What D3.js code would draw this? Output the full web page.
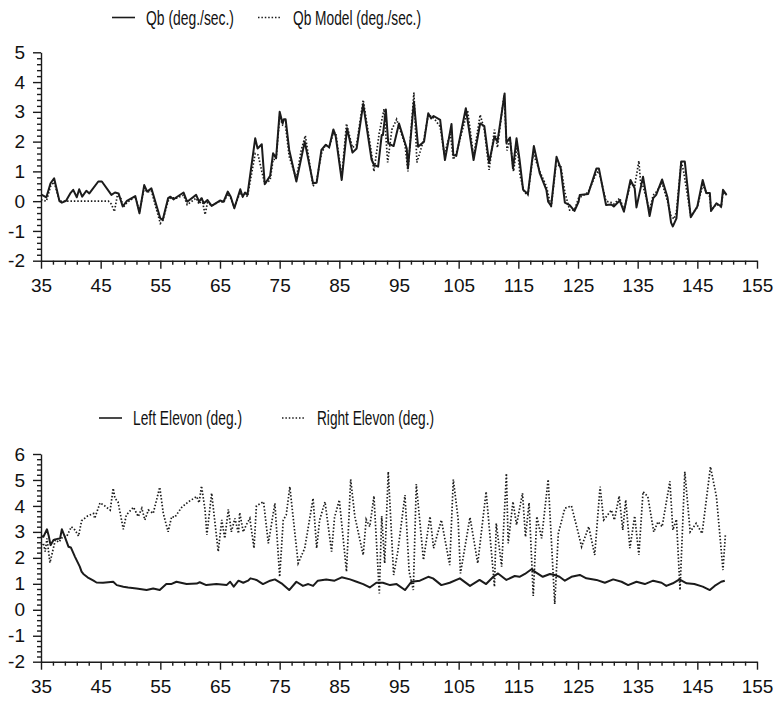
<!DOCTYPE html>
<html>
<head>
<meta charset="utf-8">
<script src="https://cdn.jsdelivr.net/npm/d3@7"></script>
<style>
  body { margin: 0; background: #fff; }
  svg { display: block; }
  .tick text { font-family: "Liberation Sans", Arial, sans-serif; font-size: 19px; fill: #111; }
  .legend text { font-family: "Liberation Sans", Arial, sans-serif; font-size: 19.5px; fill: #111; }
</style>
</head>
<body>
<script>
// ---- data ----
const xMajorTicks = [35, 45, 55, 65, 75, 85, 95, 105, 115, 125, 135, 145, 155];
const topYTicks = [-2, -1, 0, 1, 2, 3, 4, 5];
const bottomYTicks = [-2, -1, 0, 1, 2, 3, 4, 5, 6];
const topLegend = ["Qb (deg./sec.)", "Qb Model (deg./sec.)"];
const bottomLegend = ["Left Elevon (deg.)", "Right Elevon (deg.)"];

// [time, value]
const qb = [
  [35.0, 0.23], [35.9, 0.13], [36.6, 0.6], [37.2, 0.77], [38.1, 0.0], [38.5, -0.05], [39.2, 0.01],
  [39.9, 0.26], [40.4, 0.38], [41.0, 0.13], [41.4, 0.4], [41.9, 0.15], [42.6, 0.35], [43.1, 0.26],
  [44.6, 0.66], [45.2, 0.66], [46.8, 0.21], [47.4, 0.29], [48.0, 0.26], [48.7, -0.18], [49.4, 0.01],
  [50.8, 0.17], [51.5, -0.41], [52.3, 0.54], [52.8, 0.32], [53.5, 0.43], [55.0, -0.58], [55.4, -0.63],
  [56.3, 0.1], [56.7, 0.15], [57.2, 0.06], [57.7, 0.13], [58.9, 0.29], [59.5, -0.02], [61.0, 0.21],
  [61.5, -0.02], [61.9, 0.1], [62.3, -0.07], [62.9, 0.04], [63.6, -0.16], [65.0, 0.02], [65.6, -0.02],
  [66.3, 0.32], [66.8, 0.15], [67.4, -0.24], [68.4, 0.4], [68.8, 0.15], [69.2, 0.29], [69.6, 0.21],
  [70.9, 2.11], [71.3, 1.77], [72.0, 1.91], [72.5, 0.57], [73.4, 0.85], [73.9, 1.61], [74.4, 1.44],
  [75.0, 3.0], [75.5, 2.61], [75.7, 2.75], [76.0, 2.75], [76.6, 1.72], [77.8, 0.66], [79.2, 2.0],
  [80.6, 0.6], [81.2, 0.62], [82.0, 1.72], [82.7, 1.89], [83.3, 1.81], [84.0, 2.41], [84.4, 2.17],
  [85.4, 0.71], [86.3, 2.45], [87.2, 1.63], [87.9, 1.77], [89.0, 3.26], [90.4, 1.4], [90.8, 1.22],
  [91.5, 1.16], [92.1, 2.22], [92.3, 2.22], [92.8, 3.08], [93.2, 1.94], [94.1, 1.85], [95.0, 2.61],
  [96.3, 1.77], [96.5, 1.1], [97.5, 3.34], [98.2, 1.83], [99.2, 2.0], [99.9, 2.95], [100.4, 2.78],
  [100.8, 2.86], [101.9, 2.73], [102.7, 1.38], [103.8, 2.59], [104.1, 1.55], [104.6, 1.52], [106.2, 3.12],
  [107.5, 1.38], [108.6, 2.61], [109.3, 2.52], [110.1, 1.29], [111.0, 2.17], [111.5, 2.0], [112.7, 3.62],
  [113.0, 1.96], [113.6, 2.14], [114.1, 1.1], [114.7, 2.11], [115.2, 1.4], [115.8, 0.38], [116.6, 0.24],
  [117.6, 1.85], [118.6, 0.93], [119.7, 0.38], [120.0, -0.02], [120.5, -0.16], [121.4, 1.49], [122.1, 1.1],
  [122.8, -0.05], [123.6, -0.13], [124.4, -0.33], [125.1, -0.02], [125.3, 0.21], [126.7, 0.24], [128.1, 1.1],
  [128.5, 1.1], [129.7, -0.13], [130.6, -0.11], [131.0, -0.18], [132.0, 0.02], [132.7, -0.35], [133.8, 0.71],
  [134.5, 0.43], [134.8, -0.21], [135.9, 0.82], [137.0, -0.5], [137.6, 0.1], [138.1, 0.21], [139.1, 0.73],
  [140.0, 0.13], [140.6, -0.72], [140.9, -0.85], [141.5, -0.58], [142.3, 1.33], [142.9, 1.33], [143.9, -0.54],
  [145.0, -0.18], [145.9, 0.71], [146.5, 0.27], [147.1, 0.27], [147.3, -0.33], [148.2, -0.07], [149.0, -0.18],
  [149.3, 0.38], [149.9, 0.21]
];

const qbModel = [
  [35.0, 0.05], [35.9, 0.0], [36.6, 0.5], [37.2, 0.65], [38.1, 0.0], [40.0, 0.0], [42.0, 0.0], [44.0, 0.0],
  [46.3, 0.0], [46.8, -0.1], [47.3, -0.35], [47.8, 0.2], [48.3, 0.15], [48.8, -0.2], [49.4, -0.05],
  [50.8, 0.15], [51.5, -0.35], [52.3, 0.45], [52.8, 0.3], [53.5, 0.35], [55.0, -0.75], [55.4, -0.65],
  [56.3, 0.0], [56.7, 0.12], [57.7, 0.1], [58.9, 0.2], [59.5, -0.12], [61.0, 0.1], [61.5, -0.1],
  [62.0, 0.05], [62.5, -0.45], [62.9, -0.05], [63.6, -0.15], [65.0, 0.0], [65.6, -0.05], [66.3, 0.25],
  [66.8, 0.1], [67.4, -0.2], [68.4, 0.3], [68.8, 0.15], [69.2, 0.25], [69.6, 0.15], [70.9, 1.6],
  [71.4, 1.55], [72.0, 1.0], [72.5, 0.6], [73.4, 0.7], [73.9, 1.4], [74.4, 1.4], [75.0, 2.85],
  [75.5, 2.55], [76.0, 2.5], [76.6, 1.5], [77.8, 0.75], [78.6, 1.7], [79.3, 2.2], [80.6, 0.5],
  [81.2, 0.7], [82.0, 1.6], [82.7, 1.9], [83.3, 1.8], [84.0, 2.3], [84.4, 2.3], [85.4, 0.8],
  [86.2, 2.6], [87.2, 1.8], [87.9, 1.9], [89.0, 3.4], [90.4, 1.6], [90.8, 1.0], [91.7, 2.3],
  [92.5, 3.1], [93.1, 1.3], [93.8, 2.4], [94.6, 2.75], [96.0, 1.9], [96.5, 1.0], [97.5, 3.65],
  [98.0, 1.3], [99.2, 2.1], [99.9, 2.9], [100.8, 2.8], [101.9, 2.5], [102.6, 1.55], [103.6, 2.3],
  [104.1, 1.4], [104.6, 1.6], [106.5, 3.05], [107.5, 1.5], [108.6, 2.9], [109.3, 2.4], [110.1, 1.05],
  [111.0, 2.4], [111.5, 1.8], [112.6, 3.55], [113.1, 1.7], [113.6, 2.1], [114.2, 1.0], [114.8, 1.9],
  [115.3, 0.85], [116.0, 0.3], [116.6, 0.2], [117.5, 1.6], [118.6, 1.0], [119.7, 0.5], [120.5, -0.2],
  [121.3, 1.2], [122.1, 1.2], [122.8, 0.3], [123.6, -0.3], [124.4, -0.3], [125.1, 0.1], [126.7, 0.3],
  [128.1, 0.95], [128.5, 1.0], [129.7, 0.0], [130.6, -0.05], [131.0, -0.1], [132.0, 0.1], [132.7, -0.3],
  [133.8, 0.6], [134.5, 0.5], [135.2, 1.35], [135.5, 0.6], [135.9, 0.5], [137.0, -0.3], [137.6, 0.2],
  [138.1, 0.3], [139.1, 0.6], [140.0, 0.0], [140.6, -0.5], [141.1, -0.6], [141.5, -0.35], [142.3, 1.35],
  [142.7, 1.0], [143.9, -0.5], [145.0, -0.2], [145.9, 0.55], [146.5, 0.3], [147.1, 0.15], [147.3, -0.3],
  [148.2, -0.1], [149.0, -0.2], [149.3, 0.3], [149.9, 0.2]
];

const leftElevon = [
  [35.0, 2.84], [35.4, 2.81], [36.0, 3.1], [36.3, 2.84], [36.6, 2.49], [37.1, 2.69], [37.9, 2.74],
  [38.2, 2.75], [38.5, 3.1], [39.0, 2.81], [39.6, 2.43], [40.0, 2.4], [40.7, 2.04], [41.5, 1.66],
  [41.8, 1.47], [42.1, 1.38], [42.8, 1.25], [43.8, 1.12], [44.3, 1.05], [45.4, 1.04], [47.1, 1.08],
  [47.7, 0.95], [48.8, 0.89], [49.6, 0.86], [51.0, 0.82], [52.7, 0.76], [53.8, 0.82], [54.9, 0.76],
  [56.0, 0.99], [56.8, 0.99], [57.7, 1.08], [59.4, 0.99], [61.1, 1.01], [61.6, 1.06], [62.7, 0.95],
  [64.4, 0.99], [66.1, 0.95], [66.7, 1.08], [67.3, 0.89], [68.1, 1.12], [68.9, 1.04], [69.7, 1.12],
  [70.1, 1.21], [71.1, 1.15], [72.2, 0.99], [73.4, 1.12], [74.2, 1.17], [75.3, 1.02], [76.6, 0.76],
  [77.8, 1.08], [78.9, 0.92], [79.8, 0.99], [80.6, 0.92], [81.4, 1.12], [82.8, 1.17], [84.2, 1.12],
  [85.4, 1.25], [86.8, 1.17], [87.9, 1.08], [89.0, 0.99], [90.1, 0.86], [91.2, 1.04], [92.3, 1.04],
  [93.5, 0.95], [94.6, 0.99], [96.0, 0.76], [97.1, 1.08], [98.5, 1.12], [99.9, 1.27], [100.7, 1.21],
  [102.1, 0.95], [103.5, 1.04], [105.2, 1.21], [106.9, 0.92], [108.5, 1.15], [109.6, 0.99], [110.8, 1.27],
  [111.6, 1.4], [113.0, 1.15], [114.4, 1.3], [115.2, 1.27], [116.1, 1.38], [117.2, 1.56], [118.0, 1.43],
  [119.1, 1.27], [120.3, 1.38], [121.1, 1.34], [121.9, 1.27], [122.8, 1.12], [123.9, 1.27], [125.3, 1.34],
  [126.4, 1.21], [128.1, 1.15], [129.5, 1.04], [130.9, 1.17], [132.3, 1.08], [133.4, 0.95], [134.8, 1.08],
  [136.2, 0.99], [137.6, 1.12], [139.0, 1.04], [139.8, 0.92], [140.9, 1.02], [142.0, 1.17], [143.2, 1.02],
  [144.5, 0.99], [145.9, 0.89], [147.1, 0.76], [147.9, 0.92], [149.0, 1.08], [149.6, 1.12]
];

const rightElevon = [
  [35.0, 2.5], [35.4, 2.56], [35.7, 2.24], [36.0, 2.75], [36.5, 1.81], [37.0, 2.3], [37.4, 2.69],
  [38.0, 2.6], [38.6, 2.8], [39.3, 2.82], [40.1, 3.2], [40.7, 3.07], [41.3, 2.84], [41.8, 3.43],
  [42.8, 3.61], [43.8, 3.71], [44.0, 3.52], [44.9, 4.12], [45.7, 4.0], [46.6, 3.84], [47.1, 4.68],
  [47.4, 4.29], [47.9, 4.16], [48.8, 3.1], [49.3, 3.65], [50.5, 3.95], [51.3, 3.59], [51.9, 3.91],
  [52.4, 3.46], [53.0, 3.84], [53.8, 3.71], [54.9, 4.72], [55.5, 3.71], [56.3, 3.0], [56.9, 3.59],
  [57.4, 3.56], [58.6, 3.95], [59.7, 4.16], [61.1, 4.36], [61.5, 4.12], [61.9, 4.77], [62.5, 3.84],
  [62.8, 2.88], [63.6, 4.49], [64.7, 2.24], [65.3, 3.46], [65.8, 2.75], [66.4, 3.87], [66.9, 3.0],
  [67.5, 3.52], [68.1, 2.94], [68.3, 3.74], [68.9, 3.0], [69.4, 3.27], [70.0, 3.52], [70.7, 2.37],
  [71.1, 4.0], [72.3, 4.16], [73.1, 2.56], [74.2, 4.1], [75.0, 1.27], [75.6, 3.46], [76.1, 3.65],
  [76.7, 4.74], [78.1, 1.79], [79.2, 2.37], [80.6, 4.29], [81.2, 2.37], [81.7, 3.46], [82.6, 4.16],
  [83.7, 2.24], [84.2, 3.56], [85.0, 4.23], [86.2, 1.47], [86.9, 5.02], [87.6, 3.59], [89.0, 2.11],
  [89.5, 3.48], [90.1, 3.2], [90.8, 4.38], [91.7, 0.63], [92.1, 3.61], [92.6, 1.79], [93.2, 5.32],
  [94.1, 1.34], [94.8, 2.24], [96.0, 4.42], [96.7, 1.47], [97.4, 0.76], [97.9, 4.84], [99.1, 1.92],
  [100.2, 3.59], [100.8, 2.37], [102.1, 3.46], [103.5, 1.72], [104.1, 5.02], [104.9, 3.52], [105.3, 1.4],
  [106.9, 3.56], [108.2, 1.79], [109.6, 4.55], [111.0, 0.89], [111.3, 3.33], [112.2, 1.66], [113.0, 5.25],
  [113.3, 2.56], [114.1, 4.16], [114.7, 3.27], [115.7, 4.49], [116.2, 2.81], [116.8, 4.12], [117.5, 0.53],
  [118.1, 3.59], [118.9, 2.75], [120.0, 5.02], [121.1, 0.22], [121.7, 2.94], [122.8, 3.91], [123.9, 4.0],
  [125.0, 3.0], [125.6, 2.43], [126.8, 3.2], [127.8, 2.11], [128.7, 4.74], [129.3, 3.46], [130.6, 3.84],
  [131.1, 3.46], [131.9, 4.38], [132.5, 3.07], [133.0, 4.23], [133.7, 2.37], [134.5, 3.61], [135.2, 2.11],
  [135.9, 4.55], [136.7, 4.36], [137.7, 3.0], [138.4, 3.39], [139.1, 3.2], [140.4, 4.95], [140.9, 3.07],
  [141.5, 3.48], [142.1, 0.76], [142.9, 5.32], [143.8, 3.0], [144.8, 3.33], [145.8, 2.94], [147.2, 5.51],
  [148.2, 4.36], [149.3, 1.53], [149.7, 2.88]
];

// ---- layout ----
const width = 780, height = 704;
const left = 41, right = 757;
const ink = "#1b1b1b";
const dotted = "1.5 1.9";

const svg = d3.select("body").append("svg")
  .attr("width", width).attr("height", height)
  .attr("viewBox", [0, 0, width, height]);

const x = d3.scaleLinear().domain([35, 155]).range([left, right]);

function panel(opts) {
  const y = d3.scaleLinear().domain(opts.yDomain).range([opts.bottom, opts.top]);
  const g = svg.append("g");

  // minor ticks
  const xMinor = d3.range(35, 155.01, 2).filter(d => (d - 35) % 10 !== 0);
  g.append("g").attr("transform", `translate(0,${opts.bottom})`)
    .call(d3.axisBottom(x).tickValues(xMinor).tickSize(4).tickFormat(""))
    .call(s => s.select(".domain").remove());
  const yMinor = d3.range(opts.yDomain[0], opts.yDomain[1] + 0.001, 0.2)
    .filter(d => Math.abs(d - Math.round(d)) > 0.01);
  g.append("g").attr("transform", `translate(${left},0)`)
    .call(d3.axisLeft(y).tickValues(yMinor).tickSize(4).tickFormat(""))
    .call(s => s.select(".domain").remove());

  // major axes
  g.append("g").attr("transform", `translate(0,${opts.bottom})`)
    .call(d3.axisBottom(x).tickValues(xMajorTicks).tickSize(8).tickSizeOuter(0).tickPadding(10)
      .tickFormat(d => String(d)));
  g.append("g").attr("transform", `translate(${left},0)`)
    .call(d3.axisLeft(y).tickValues(opts.yTicks).tickSize(8).tickSizeOuter(0).tickPadding(8)
      .tickFormat(d => String(d)));

  g.selectAll(".domain, .tick line").attr("stroke", ink).attr("stroke-width", 1.4);

  const line = d3.line().x(d => x(d[0])).y(d => y(d[1]));
  g.append("path").datum(opts.dotted).attr("d", line)
    .attr("fill", "none").attr("stroke", ink).attr("stroke-width", 1.7)
    .attr("stroke-dasharray", dotted);
  g.append("path").datum(opts.solid).attr("d", line)
    .attr("fill", "none").attr("stroke", ink).attr("stroke-width", 2)
    .attr("stroke-linejoin", "round");

  // legend (the reference uses a condensed face, so squeeze the text)
  const lg = svg.append("g").attr("class", "legend");
  const L = opts.legend;
  lg.append("line").attr("x1", L.solidX).attr("x2", L.solidX + 23).attr("y1", L.y).attr("y2", L.y)
    .attr("stroke", ink).attr("stroke-width", 1.6);
  lg.append("text").attr("x", L.solidX + 34).attr("y", L.y + 7)
    .attr("textLength", L.widths[0]).attr("lengthAdjust", "spacingAndGlyphs")
    .text(opts.names[0]);
  lg.append("line").attr("x1", L.dotX).attr("x2", L.dotX + 22).attr("y1", L.y).attr("y2", L.y)
    .attr("stroke", ink).attr("stroke-width", 1.6).attr("stroke-dasharray", dotted);
  lg.append("text").attr("x", L.dotX + 35).attr("y", L.y + 7)
    .attr("textLength", L.widths[1]).attr("lengthAdjust", "spacingAndGlyphs")
    .text(opts.names[1]);
}

panel({
  yDomain: [-2, 5], yTicks: topYTicks, top: 52.3, bottom: 260.7,
  solid: qb, dotted: qbModel, names: topLegend,
  legend: { y: 17.5, solidX: 112, dotX: 258, widths: [88, 128] }
});

panel({
  yDomain: [-2, 6], yTicks: bottomYTicks, top: 454, bottom: 661.7,
  solid: leftElevon, dotted: rightElevon, names: bottomLegend,
  legend: { y: 418, solidX: 99, dotX: 282, widths: [109, 117] }
});
</script>
</body>
</html>
